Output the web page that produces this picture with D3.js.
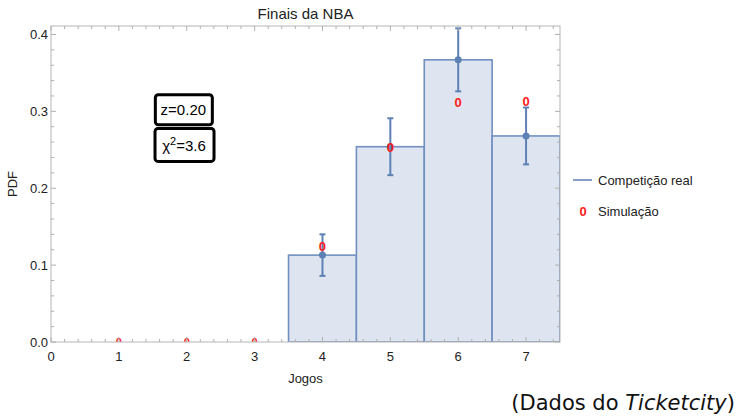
<!DOCTYPE html>
<html>
<head>
<meta charset="utf-8">
<script src="https://cdn.jsdelivr.net/npm/d3@7"></script>
<style>
  body { margin: 0; background: #fff; }
  text { font-family: "Liberation Sans", Arial, sans-serif; }
</style>
</head>
<body>
<div id="chart"></div>
<script>
(function(d3) {
    // dados
    var jogos = [1, 2, 3, 4, 5, 6, 7];
    var real = [0, 0, 0, 0.113, 0.254, 0.367, 0.268];
    var erro = [0, 0, 0, 0.027, 0.037, 0.041, 0.037];
    var simulacao = [0, 0, 0, 0.125, 0.253, 0.312, 0.313];
    var xTicks = [0, 1, 2, 3, 4, 5, 6, 7];
    var yTicks = [0.0, 0.1, 0.2, 0.3, 0.4];
    var caixas = [{x: 1.95, y: 0.302}, {x: 1.96, y: 0.257}];

    var W = 740, H = 416;
    var left = 51, right = 560, top = 26, bottom = 342;
    var blue = '#5e81b5';

    var svg = d3.select('#chart').append('svg')
        .attr('width', W).attr('height', H);

    var x = d3.scaleLinear().domain([0, 7.5]).range([left, right]);
    var y = d3.scaleLinear().domain([0, 0.411]).range([bottom, top]);

    svg.append('clipPath').attr('id', 'plot')
        .append('rect').attr('x', left).attr('y', top)
        .attr('width', right - left).attr('height', bottom - top);

    var plot = svg.append('g').attr('clip-path', 'url(#plot)');

    // barras do histograma
    plot.selectAll('rect.bar')
        .data(jogos)
        .enter()
        .append('rect')
        .attr('class', 'bar')
        .attr('x', function(d) { return x(d - 0.5); })
        .attr('width', function(d) { return x(d + 0.5) - x(d - 0.5); })
        .attr('y', function(d, i) { return y(real[i]); })
        .attr('height', function(d, i) { return y(0) - y(real[i]); })
        .attr('fill', '#dfe5f0')
        .attr('stroke', '#7190c0')
        .attr('stroke-width', 1.6);

    // barras de erro
    var eb = plot.selectAll('g.err')
        .data(jogos.filter(function(d, i) { return real[i] > 0; }))
        .enter()
        .append('g');
    eb.each(function(d) {
        var i = jogos.indexOf(d), g = d3.select(this);
        var lo = y(real[i] - erro[i]), hi = y(real[i] + erro[i]);
        g.append('line').attr('x1', x(d)).attr('x2', x(d))
            .attr('y1', lo).attr('y2', hi)
            .attr('stroke', blue).attr('stroke-width', 2);
        [lo, hi].forEach(function(v) {
            g.append('line').attr('x1', x(d) - 3).attr('x2', x(d) + 3)
                .attr('y1', v).attr('y2', v)
                .attr('stroke', blue).attr('stroke-width', 2);
        });
        g.append('circle').attr('cx', x(d)).attr('cy', y(real[i]))
            .attr('r', 3.5).attr('fill', blue);
    });

    // pontos da simulacao (os de valor 0 ficam cortados pela moldura)
    plot.selectAll('text.sim')
        .data(jogos)
        .enter()
        .append('text')
        .attr('x', function(d) { return x(d); })
        .attr('y', function(d, i) { return y(simulacao[i]); })
        .attr('dy', '0.36em')
        .attr('text-anchor', 'middle')
        .attr('font-size', function(d, i) { return simulacao[i] > 0 ? 13 : 11; })
        .attr('font-weight', 'bold')
        .attr('fill', '#ff1a1a')
        .text('0');

    // moldura e ticks
    svg.append('rect').attr('x', left).attr('y', top)
        .attr('width', right - left).attr('height', bottom - top)
        .attr('fill', 'none').attr('stroke', '#b5b5b5').attr('stroke-width', 1);

    var tickCol = '#b0b0b0';
    var xMinor = d3.range(0, 7.51, 0.2);
    var yMinor = d3.range(0, 0.411, 0.02);
    xMinor.forEach(function(v) {
        var major = Math.abs(v - Math.round(v)) < 1e-6;
        var len = major ? 5 : 3;
        svg.append('line').attr('x1', x(v)).attr('x2', x(v))
            .attr('y1', bottom).attr('y2', bottom - len).attr('stroke', tickCol);
        svg.append('line').attr('x1', x(v)).attr('x2', x(v))
            .attr('y1', top).attr('y2', top + len).attr('stroke', tickCol);
    });
    yMinor.forEach(function(v) {
        var major = Math.abs(v * 10 - Math.round(v * 10)) < 1e-6;
        var len = major ? 5 : 3;
        svg.append('line').attr('x1', left).attr('x2', left + len)
            .attr('y1', y(v)).attr('y2', y(v)).attr('stroke', tickCol);
        svg.append('line').attr('x1', right).attr('x2', right - len)
            .attr('y1', y(v)).attr('y2', y(v)).attr('stroke', tickCol);
    });

    svg.selectAll('text.xt')
        .data(xTicks)
        .enter()
        .append('text')
        .attr('x', function(d) { return x(d); })
        .attr('y', bottom + 19)
        .attr('text-anchor', 'middle')
        .attr('font-size', 13)
        .attr('fill', '#222')
        .text(function(d) { return d; });

    svg.selectAll('text.yt')
        .data(yTicks)
        .enter()
        .append('text')
        .attr('x', left - 3)
        .attr('y', function(d) { return y(d); })
        .attr('dy', '0.36em')
        .attr('text-anchor', 'end')
        .attr('font-size', 13)
        .attr('fill', '#222')
        .text(function(d) { return d.toFixed(1); });

    svg.append('text').attr('x', (left + right) / 2).attr('y', 19)
        .attr('text-anchor', 'middle').attr('font-size', 15).attr('fill', '#222')
        .text('Finais da NBA');
    svg.append('text').attr('x', (left + right) / 2).attr('y', 383)
        .attr('text-anchor', 'middle').attr('font-size', 13).attr('fill', '#222')
        .text('Jogos');
    svg.append('text').attr('transform', 'translate(17,' + ((top + bottom) / 2) + ') rotate(-90)')
        .attr('text-anchor', 'middle').attr('font-size', 13).attr('fill', '#222')
        .text('PDF');

    // caixas com z e chi^2
    var b1 = svg.append('g').attr('transform', 'translate(' + x(caixas[0].x) + ',' + y(caixas[0].y) + ')');
    b1.append('rect').attr('x', -28).attr('y', -15).attr('width', 57).attr('height', 30)
        .attr('rx', 3).attr('fill', '#fff').attr('stroke', '#000').attr('stroke-width', 3);
    b1.append('text').attr('text-anchor', 'middle').attr('dy', '0.36em')
        .attr('font-size', 15).text('z=0.20');

    var b2 = svg.append('g').attr('transform', 'translate(' + x(caixas[1].x) + ',' + y(caixas[1].y) + ')');
    b2.append('rect').attr('x', -29).attr('y', -16).attr('width', 59).attr('height', 33)
        .attr('rx', 3).attr('fill', '#fff').attr('stroke', '#000').attr('stroke-width', 3);
    var t2 = b2.append('text').attr('text-anchor', 'middle').attr('dy', '0.45em').attr('font-size', 15);
    t2.append('tspan').text('\u03c7');
    t2.append('tspan').attr('dy', -6).attr('font-size', 11).text('2');
    t2.append('tspan').attr('dy', 6).text('=3.6');

    // legenda
    var lg = svg.append('g');
    lg.append('line').attr('x1', 573).attr('x2', 592).attr('y1', 180).attr('y2', 180)
        .attr('stroke', blue).attr('stroke-width', 1.5);
    lg.append('text').attr('x', 598).attr('y', 180).attr('dy', '0.36em')
        .attr('font-size', 13).attr('fill', '#222').text('Competição real');
    lg.append('text').attr('x', 583).attr('y', 211).attr('dy', '0.36em')
        .attr('text-anchor', 'middle').attr('font-size', 13).attr('font-weight', 'bold')
        .attr('fill', '#ff1a1a').text('0');
    lg.append('text').attr('x', 598).attr('y', 211).attr('dy', '0.36em')
        .attr('font-size', 13).attr('fill', '#222').text('Simulação');

    // fonte dos dados
    var src = svg.append('text').attr('x', 735).attr('y', 410)
        .attr('text-anchor', 'end').attr('font-size', 21).attr('fill', '#111')
        .style('font-family', '"DejaVu Sans", sans-serif');
    src.append('tspan').text('(Dados do ');
    src.append('tspan').attr('font-style', 'italic').text('Ticketcity');
    src.append('tspan').text(')');
}(window.d3));
</script>
</body>
</html>
